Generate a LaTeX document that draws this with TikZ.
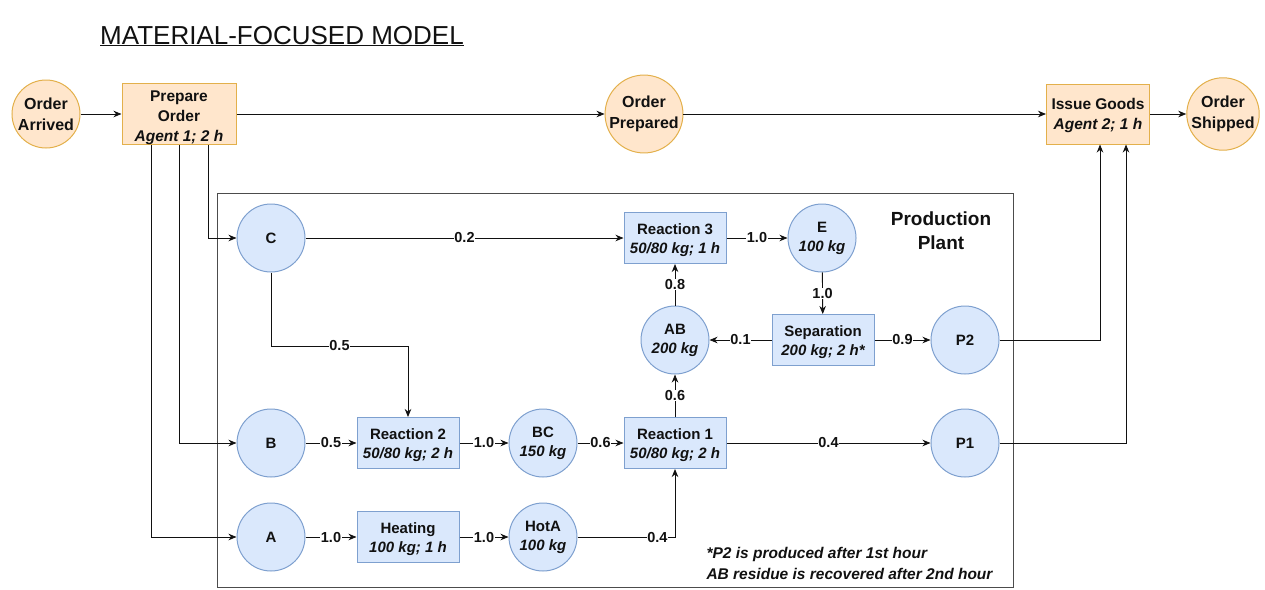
\documentclass[tikz,border=0pt]{standalone}
\usepackage{fontspec}
\setmainfont{Liberation Sans}
\usetikzlibrary{arrows.meta,positioning}
\definecolor{peachfill}{HTML}{FFE6CC}
\definecolor{peachline}{HTML}{E3B04B}
\definecolor{bluefill}{HTML}{DAE8FC}
\definecolor{blueline}{HTML}{7EA0CF}
\definecolor{ink}{HTML}{111111}
% taller first line, so two- and three-line box texts sit a little lower
\newcommand{\topstrut}[1]{\rule{0pt}{#1}}
\begin{document}
\begin{tikzpicture}[x=1pt,y=-1pt,
  every node/.style={text=ink},
  event/.style={circle,draw=peachline,fill=peachfill,line width=1pt,minimum size=68pt,inner sep=0pt,
    align=center,font=\fontsize{16}{21}\selectfont\bfseries},
  task/.style={rectangle,draw=peachline,fill=peachfill,line width=1pt,inner sep=0pt,
    align=center,font=\fontsize{15.5}{20}\selectfont\bfseries},
  mat/.style={circle,draw=blueline,fill=bluefill,line width=1pt,minimum size=68pt,inner sep=0pt,
    align=center,font=\fontsize{15}{19}\selectfont\bfseries},
  unit/.style={rectangle,draw=blueline,fill=bluefill,line width=1pt,minimum width=102pt,minimum height=51pt,
    inner sep=0pt,align=center,font=\fontsize{15}{19}\selectfont\bfseries},
  flow/.style={draw=ink,line width=0.9pt,-{Stealth[length=8pt,width=6.5pt,inset=2.5pt]}},
  lbl/.style={fill=white,inner sep=0.5pt,font=\fontsize{14.5}{16}\selectfont\bfseries}]
\useasboundingbox (0,0) rectangle (1265,589);

% title
\node[anchor=base west,inner sep=0pt,font=\fontsize{26}{30}\selectfont] (title) at (100,44)
  {\underline{MATERIAL-FOCUSED MODEL}};

% production plant frame
\draw[draw=black!70,line width=1pt] (217,193) rectangle (1013,587);
\node[align=center,font=\fontsize{19}{24}\selectfont\bfseries] (plant) at (941,231) {Production\\Plant};
\node[align=left,anchor=west,font=\fontsize{15.5}{21}\selectfont\bfseries\itshape] (note) at (703,563)
  {*P2 is produced after 1st hour\\AB residue is recovered after 2nd hour};

% order process
\node[event] (OA) at (46,114) {Order\\Arrived};
\node[task,minimum width=114pt,minimum height=60pt] (PO) at (179,114)
  {\topstrut{18pt}Prepare\\Order\\\itshape Agent 1; 2 h};
\node[event] (OP) at (644,114) {Order\\Prepared};
\node[task,minimum width=103pt,minimum height=60pt] (IG) at (1098,114)
  {\topstrut{14pt}Issue Goods\\\itshape Agent 2; 1 h};
\node[event] (OS) at (1223,114) {Order\\Shipped};

% materials and units
\node[mat] (C) at (271,238) {C};
\node[mat] (B) at (271,443) {B};
\node[mat] (A) at (271,537) {A};
\node[unit] (R3) at (675,238) {\topstrut{15pt}Reaction 3\\\itshape 50/80 kg; 1 h};
\node[mat] (E) at (822,238) {E\\\itshape 100 kg};
\node[mat] (AB) at (675,340) {AB\\\itshape 200 kg};
\node[unit] (SEP) at (823,340) {\topstrut{15pt}Separation\\\itshape 200 kg; 2 h*};
\node[mat] (P2) at (965,340) {P2};
\node[unit] (R2) at (408,443) {\topstrut{15pt}Reaction 2\\\itshape 50/80 kg; 2 h};
\node[mat] (BC) at (543,443) {BC\\\itshape 150 kg};
\node[unit] (R1) at (675,443) {\topstrut{15pt}Reaction 1\\\itshape 50/80 kg; 2 h};
\node[mat] (P1) at (965,443) {P1};
\node[unit] (HEAT) at (408,537) {\topstrut{15pt}Heating\\\itshape 100 kg; 1 h};
\node[mat] (HA) at (543,537) {HotA\\\itshape 100 kg};
\coordinate (cjoin) at (271,346);

% order flow
\draw[flow] (OA) -- (PO);
\draw[flow] (PO) -- (OP);
\draw[flow] (OP) -- (IG);
\draw[flow] (IG) -- (OS);
\draw[flow] ([xshift=-28pt]PO.south) |- (A);
\draw[flow] (PO.south) |- (B);
\draw[flow] ([xshift=29pt]PO.south) |- (C);

% material flow
\draw[flow] (C) -- node[lbl] {0.2} (R3);
\draw[flow] (C.south) -- (cjoin) -| node[lbl,pos=0.25] {0.5} (R2.north);
\draw[flow] (B) -- node[lbl] {0.5} (R2);
\draw[flow] (R2) -- node[lbl] {1.0} (BC);
\draw[flow] (BC) -- node[lbl] {0.6} (R1);
\draw[flow] (A) -- node[lbl] {1.0} (HEAT);
\draw[flow] (HEAT) -- node[lbl] {1.0} (HA);
\draw[flow] (HA) -| node[lbl,pos=0.41] {0.4} (R1);
\draw[flow] (R1) -- node[lbl] {0.6} (AB);
\draw[flow] (AB) -- node[lbl] {0.8} (R3);
\draw[flow] (R3) -- node[lbl] {1.0} (E);
\draw[flow] (E) -- node[lbl] {1.0} (SEP);
\draw[flow] (SEP) -- node[lbl] {0.1} (AB);
\draw[flow] (SEP) -- node[lbl] {0.9} (P2);
\draw[flow] (R1) -- node[lbl] {0.4} (P1);
\draw[flow] (P2.east) -| ([xshift=2pt]IG.south);
\draw[flow] (P1.east) -| ([xshift=28pt]IG.south);
\end{tikzpicture}
\end{document}
